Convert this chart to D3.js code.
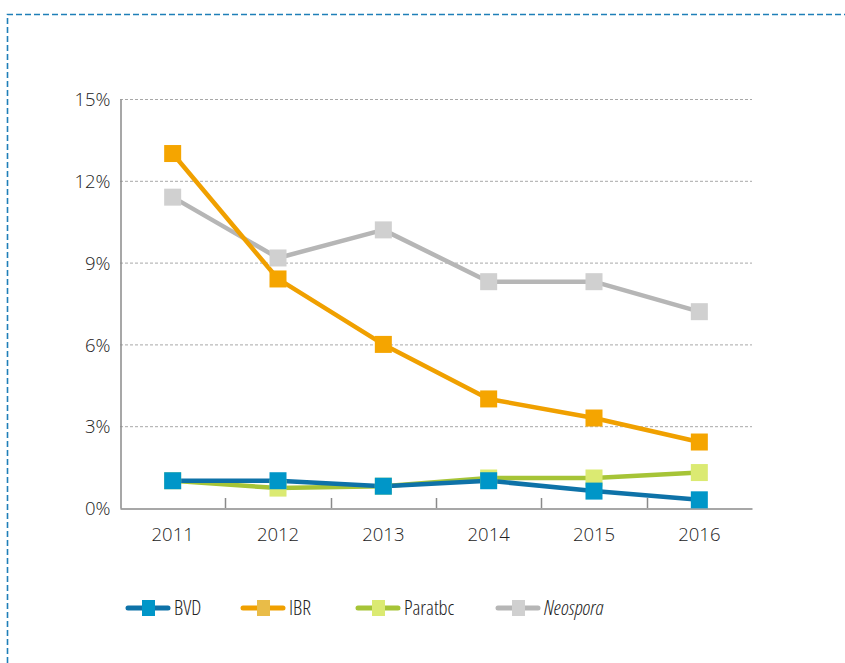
<!DOCTYPE html>
<html>
<head>
<meta charset="utf-8">
<script src="https://cdn.jsdelivr.net/npm/d3@7"></script>
<style>
  body { margin: 0; background: #fff; }
  svg { display: block; font-family: "Open Sans", sans-serif; }
  .lbl { font-family: "Open Sans", sans-serif; font-weight: 300; }
  .leg { font-family: "Open Sans", sans-serif; font-weight: 300; font-stretch: condensed; }
</style>
</head>
<body>
<div id="chart"></div>
<script>
// data (percent)
const years = ["2011", "2012", "2013", "2014", "2015", "2016"];
const bvd = [1.0, 1.0, 0.8, 1.0, 0.62, 0.3];
const ibr = [13.0, 8.4, 6.0, 4.0, 3.3, 2.42];
const paratbc = [1.0, 0.73, 0.8, 1.1, 1.1, 1.3];
const neospora = [11.4, 9.17, 10.2, 8.3, 8.3, 7.2];
const yTicks = [0, 3, 6, 9, 12, 15];

const series = [
  { name: "BVD", values: bvd, line: "#0e72a8", mark: "#0096c8", legMark: "#0096c8", italic: false },
  { name: "IBR", values: ibr, line: "#f0a000", mark: "#f5a500", legMark: "#e9bc48", italic: false },
  { name: "Paratbc", values: paratbc, line: "#a6c437", mark: "#dbea72", legMark: "#dbea72", italic: false },
  { name: "Neospora", values: neospora, line: "#b6b6b6", mark: "#d0d0d0", legMark: "#d0d0d0", italic: true }
];
// drawing order: paratbc under bvd, neospora under ibr
const drawOrder = [3, 1, 2, 0];

const W = 845, H = 663;
const svg = d3.select("#chart").append("svg").attr("width", W).attr("height", H);

// dashed frame
svg.append("path")
  .attr("d", "M7.5,663 L7.5,14.5 L845,14.5")
  .attr("fill", "none")
  .attr("stroke", "#1f7fb8")
  .attr("stroke-width", 1.6)
  .attr("stroke-dasharray", "6 3");

const x = d3.scaleBand().domain(years).range([120, 752]);
const y = d3.scaleLinear().domain([0, 15]).range([508, 99]);

// grid
svg.append("g").selectAll("line")
  .data(yTicks.filter(d => d > 0))
  .enter().append("line")
  .attr("x1", 120).attr("x2", 752)
  .attr("y1", d => y(d) + 0.5).attr("y2", d => y(d) + 0.5)
  .attr("stroke", "#a8a8a8")
  .attr("stroke-dasharray", "3 2");

// y axis
const yAx = svg.append("g").attr("transform", "translate(120.5,0)")
  .call(d3.axisLeft(y).tickValues(yTicks).tickSize(0).tickPadding(10).tickFormat(d => d + "%"));
yAx.select(".domain").attr("stroke", "#8a8a8a").attr("stroke-width", 1.5);
yAx.selectAll("text").attr("class", "lbl").attr("font-size", 18.5).attr("fill", "#222").attr("dy", "0.36em");

// x axis
const xAx = svg.append("g").attr("transform", "translate(0,508.5)")
  .call(d3.axisBottom(x).tickSize(0).tickPadding(19));
xAx.select(".domain").attr("stroke", "#8a8a8a").attr("stroke-width", 1.5);
xAx.selectAll("text").attr("class", "lbl").attr("font-size", 18.5).attr("fill", "#222");
svg.append("g").selectAll("line")
  .data(years.slice(1))
  .enter().append("line")
  .attr("x1", d => Math.round(x(d)) + 0.5).attr("x2", d => Math.round(x(d)) + 0.5)
  .attr("y1", 498).attr("y2", 508)
  .attr("stroke", "#8a8a8a").attr("stroke-width", 1.5);

const cx = d => x(d) + x.bandwidth() / 2;
const line = d3.line().x(d => cx(d.year)).y(d => y(d.v));

drawOrder.forEach(i => {
  const s = series[i];
  const pts = years.map((yr, j) => ({ year: yr, v: s.values[j] }));
  svg.append("path")
    .datum(pts)
    .attr("d", line)
    .attr("fill", "none")
    .attr("stroke", s.line)
    .attr("stroke-width", 4.5)
    .attr("stroke-linejoin", "round");
});
drawOrder.forEach(i => {
  const s = series[i];
  svg.append("g").selectAll("rect")
    .data(years.map((yr, j) => ({ year: yr, v: s.values[j] })))
    .enter().append("rect")
    .attr("x", d => cx(d.year) - 8.5)
    .attr("y", d => y(d.v) - 8.5)
    .attr("width", 17).attr("height", 17)
    .attr("fill", s.mark);
});

// legend
const legX = [128, 243, 358, 498];
const leg = svg.append("g").selectAll("g")
  .data(series)
  .enter().append("g")
  .attr("transform", (d, i) => `translate(${legX[i]},608)`);
leg.append("line")
  .attr("x1", 0).attr("x2", 40)
  .attr("stroke", d => d.line)
  .attr("stroke-width", 5)
  .attr("stroke-linecap", "round");
leg.append("rect")
  .attr("x", 14).attr("y", -8)
  .attr("width", 13).attr("height", 16)
  .attr("fill", d => d.legMark);
leg.append("text")
  .attr("class", "leg")
  .attr("x", 46).attr("y", 7)
  .attr("font-size", 20.5)
  .attr("fill", "#222")
  .attr("font-style", d => d.italic ? "italic" : "normal")
  .text(d => d.name);
</script>
</body>
</html>
